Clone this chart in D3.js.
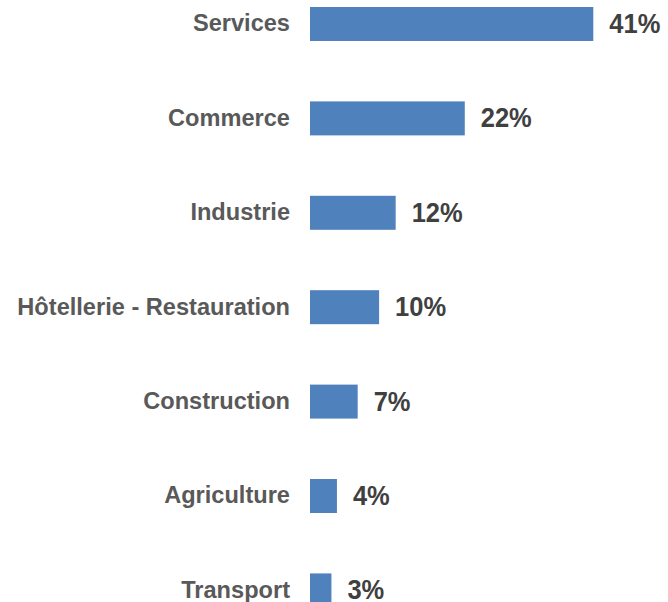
<html>
  <head>
    <meta charset="utf-8">
    <script src="https://d3js.org/d3.v7.min.js"></script>
    <style>
      body { margin: 0; background: #fff; }
      svg { display: block; }
      text { font-family: "Liberation Sans", Arial, sans-serif; font-weight: bold; }
    </style>
  </head>
  <body>
    <script>
      // Sectors and shares (%)
      var sectors = ["Services", "Commerce", "Industrie", "Hôtellerie - Restauration",
                     "Construction", "Agriculture", "Transport"];
      var shares = [41.0, 22.4, 12.4, 10.0, 6.9, 3.9, 3.1];

      var width = 668, height = 602;

      var svg = d3.select("body").append("svg")
                  .attr("width", width).attr("height", height);

      var x = d3.scaleLinear().domain([0, 41]).range([310, 593.3]);
      var y = d3.scaleBand().domain(sectors)
                .range([7, 607.4]).paddingInner(0.64).paddingOuter(0);

      var rows = sectors.map(function(s, i) { return { name: s, value: shares[i] }; });

      // bars
      svg.selectAll("rect")
         .data(rows)
         .enter().append("rect")
         .attr("x", x(0))
         .attr("y", function(d) { return y(d.name); })
         .attr("width", function(d) { return x(d.value) - x(0); })
         .attr("height", y.bandwidth())
         .attr("fill", "#4F81BD");

      // category labels (slightly stretched vertically like the source)
      svg.selectAll("text.cat")
         .data(rows)
         .enter().append("text")
         .attr("class", "cat")
         .attr("transform", function(d) {
           return "translate(290," + (y(d.name) + y.bandwidth() / 2 + 7.3) + ") scale(1,1.05)";
         })
         .attr("text-anchor", "end")
         .attr("font-size", "23.6px")
         .attr("fill", "#595959")
         .text(function(d) { return d.name; });

      // value labels
      svg.selectAll("text.val")
         .data(rows)
         .enter().append("text")
         .attr("class", "val")
         .attr("transform", function(d) {
           return "translate(" + (x(d.value) + 16) + "," + (y(d.name) + y.bandwidth() / 2 + 9) + ") scale(1,1.05)";
         })
         .attr("font-size", "25.5px")
         .attr("fill", "#404040")
         .text(function(d) { return Math.round(d.value) + "%"; });
    </script>
  </body>
</html>
